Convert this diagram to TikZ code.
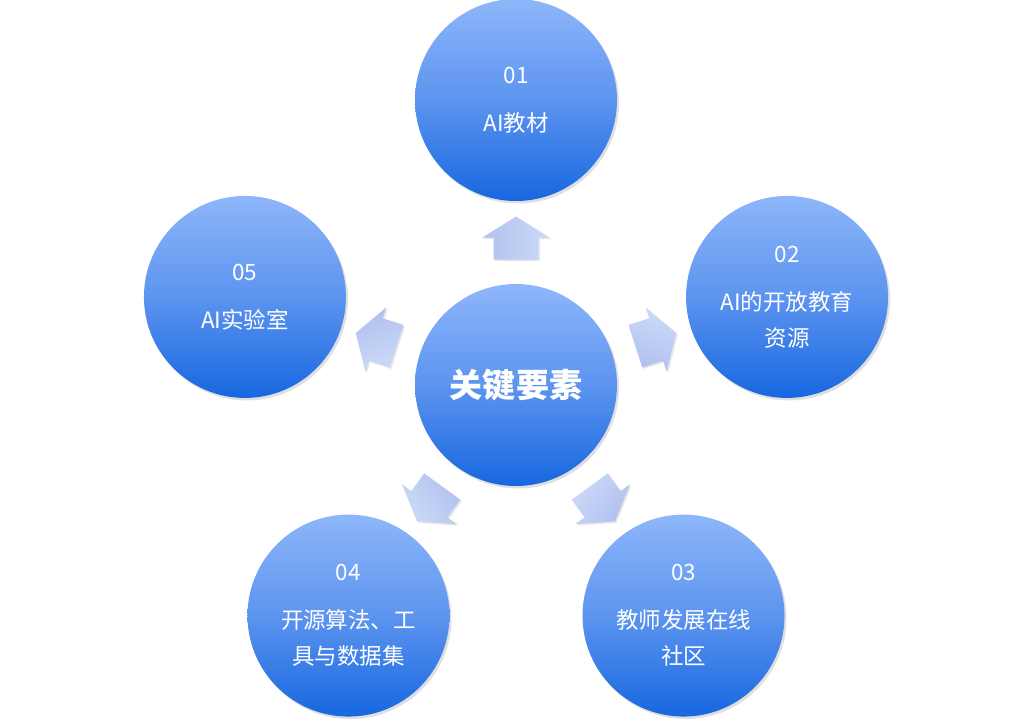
\documentclass[tikz,border=0pt]{standalone}
\usepackage{fontspec}
\setmainfont{Noto Sans CJK SC}
\usepackage{tikz}
\usetikzlibrary{shapes.arrows,shadows}
\definecolor{ballTop}{HTML}{8EB6FA}
\definecolor{ballMid}{HTML}{5C94EF}
\definecolor{ballLow}{HTML}{1767E0}
\definecolor{tipTop}{HTML}{CCD9F8}
\definecolor{tipLow}{HTML}{B0C1EE}

\begin{document}
\begin{tikzpicture}[
    ball/.style={circle,minimum size=4.04cm,inner sep=0pt,align=center,text=white,
      top color=ballTop,bottom color=ballLow,middle color=ballMid,
      drop shadow={opacity=0.25,shadow xshift=0.04cm,shadow yshift=-0.05cm},
      font=\fontsize{12.8}{20.5}\selectfont},
    hub/.style={ball,font=\fontsize{18.8}{22}\selectfont\bfseries},
    pointer/.style={single arrow,minimum height=0.86cm,inner xsep=0pt,inner ysep=0.44cm,
      single arrow head extend=0.23cm,single arrow tip angle=116,
      top color=tipTop,bottom color=tipLow,
      drop shadow={opacity=0.2,shadow xshift=0.03cm,shadow yshift=-0.03cm}}
  ]
    \useasboundingbox (-10.32,-6.7) rectangle (10.36,7.7);
    \node[hub] (key) at (0,0) {关键要素};
    \node[ball] (e1) at (90:5.7) {01\\[6.8pt]AI教材};
    \node[ball] (e2) at (18:5.7) {02\\[6.8pt]AI的开放教育\\资源};
    \node[ball] (e3) at (-54:5.7) {03\\[6.8pt]教师发展在线\\社区};
    \node[ball] (e4) at (-126:5.7) {04\\[6.8pt]开源算法、工\\具与数据集};
    \node[ball] (e5) at (162:5.7) {05\\[6.8pt]AI实验室};
    % block arrows between the hub and each element
    \foreach \ang/\i in {90/1,18/2,-54/3,-126/4,162/5}
      \node[pointer,rotate=\ang,shading angle=-\ang] (p\i) at (\ang:2.8) {};
\end{tikzpicture}
\end{document}
